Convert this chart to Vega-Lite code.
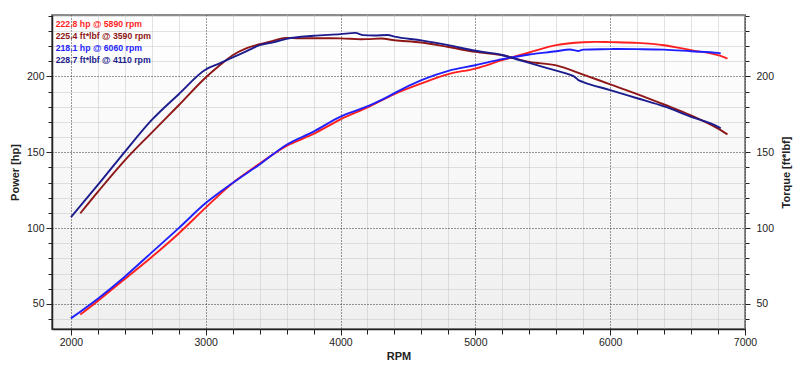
{
  "$schema": "https://vega.github.io/schema/vega-lite/v6.json",
  "width": 693,
  "height": 314,
  "autosize": "none",
  "padding": {"left": 52, "top": 15, "right": 55, "bottom": 43},
  "background": "#ffffff",
  "config": {
    "view": {
      "fill": {"gradient": "linear", "x1": 0, "y1": 0, "x2": 0, "y2": 1, "stops": [{"offset": 0, "color": "#ffffff"}, {"offset": 1, "color": "#efefef"}]},
      "stroke": "#8c8c8c",
      "strokeWidth": 2
    },
    "axis": {
      "labelFont": "Liberation Sans",
      "labelFontSize": 10.5,
      "labelColor": "#222222",
      "titleFont": "Liberation Sans",
      "titleFontSize": 11,
      "titleFontWeight": "bold",
      "titleColor": "#222222",
      "tickColor": "#222222",
      "domainColor": "#222222",
      "labelFlush": false,
      "labelOverlap": false
    }
  },
  "data": {
    "values": [
      {"series": "P1", "rpm": 2070, "value": 43},
      {"series": "P1", "rpm": 2200, "value": 52},
      {"series": "P1", "rpm": 2400, "value": 66.5},
      {"series": "P1", "rpm": 2600, "value": 81},
      {"series": "P1", "rpm": 2800, "value": 96.5},
      {"series": "P1", "rpm": 3000, "value": 113.5},
      {"series": "P1", "rpm": 3200, "value": 129.8},
      {"series": "P1", "rpm": 3400, "value": 142.5},
      {"series": "P1", "rpm": 3600, "value": 154.2},
      {"series": "P1", "rpm": 3800, "value": 162.1},
      {"series": "P1", "rpm": 4000, "value": 171.7},
      {"series": "P1", "rpm": 4200, "value": 179.6},
      {"series": "P1", "rpm": 4400, "value": 188.4},
      {"series": "P1", "rpm": 4600, "value": 195.4},
      {"series": "P1", "rpm": 4800, "value": 201.5},
      {"series": "P1", "rpm": 5000, "value": 205.2},
      {"series": "P1", "rpm": 5200, "value": 210.7},
      {"series": "P1", "rpm": 5400, "value": 215.8},
      {"series": "P1", "rpm": 5600, "value": 220.6},
      {"series": "P1", "rpm": 5800, "value": 222.5},
      {"series": "P1", "rpm": 5890, "value": 222.8},
      {"series": "P1", "rpm": 6000, "value": 222.6},
      {"series": "P1", "rpm": 6200, "value": 222.1},
      {"series": "P1", "rpm": 6400, "value": 220.6},
      {"series": "P1", "rpm": 6600, "value": 217.3},
      {"series": "P1", "rpm": 6800, "value": 214.0},
      {"series": "P1", "rpm": 6870, "value": 211.8},

      {"series": "T1", "rpm": 2070, "value": 109.8},
      {"series": "T1", "rpm": 2200, "value": 123.9},
      {"series": "T1", "rpm": 2400, "value": 144.7},
      {"series": "T1", "rpm": 2600, "value": 163},
      {"series": "T1", "rpm": 2800, "value": 181},
      {"series": "T1", "rpm": 3000, "value": 199.3},
      {"series": "T1", "rpm": 3100, "value": 207},
      {"series": "T1", "rpm": 3200, "value": 214},
      {"series": "T1", "rpm": 3300, "value": 218.5},
      {"series": "T1", "rpm": 3400, "value": 221.2},
      {"series": "T1", "rpm": 3500, "value": 223.5},
      {"series": "T1", "rpm": 3590, "value": 225.4},
      {"series": "T1", "rpm": 3700, "value": 225.1},
      {"series": "T1", "rpm": 3800, "value": 225.2},
      {"series": "T1", "rpm": 4000, "value": 225.1},
      {"series": "T1", "rpm": 4150, "value": 224.5},
      {"series": "T1", "rpm": 4200, "value": 224.6},
      {"series": "T1", "rpm": 4300, "value": 225.0},
      {"series": "T1", "rpm": 4400, "value": 223.9},
      {"series": "T1", "rpm": 4600, "value": 222.4},
      {"series": "T1", "rpm": 4800, "value": 219.4},
      {"series": "T1", "rpm": 5000, "value": 216.2},
      {"series": "T1", "rpm": 5200, "value": 214.0},
      {"series": "T1", "rpm": 5400, "value": 209.6},
      {"series": "T1", "rpm": 5600, "value": 207.3},
      {"series": "T1", "rpm": 5800, "value": 201.2},
      {"series": "T1", "rpm": 6000, "value": 194.8},
      {"series": "T1", "rpm": 6200, "value": 188.4},
      {"series": "T1", "rpm": 6400, "value": 181.5},
      {"series": "T1", "rpm": 6600, "value": 174.3},
      {"series": "T1", "rpm": 6800, "value": 165.6},
      {"series": "T1", "rpm": 6870, "value": 161.8},

      {"series": "P2", "rpm": 2000, "value": 40.5},
      {"series": "P2", "rpm": 2200, "value": 53.5},
      {"series": "P2", "rpm": 2400, "value": 68},
      {"series": "P2", "rpm": 2600, "value": 84},
      {"series": "P2", "rpm": 2800, "value": 100},
      {"series": "P2", "rpm": 3000, "value": 116.5},
      {"series": "P2", "rpm": 3200, "value": 129.8},
      {"series": "P2", "rpm": 3400, "value": 142},
      {"series": "P2", "rpm": 3600, "value": 155},
      {"series": "P2", "rpm": 3800, "value": 163.6},
      {"series": "P2", "rpm": 4000, "value": 173.5},
      {"series": "P2", "rpm": 4150, "value": 178.6},
      {"series": "P2", "rpm": 4250, "value": 182.3},
      {"series": "P2", "rpm": 4370, "value": 187.5},
      {"series": "P2", "rpm": 4400, "value": 189},
      {"series": "P2", "rpm": 4600, "value": 197.6},
      {"series": "P2", "rpm": 4800, "value": 203.7},
      {"series": "P2", "rpm": 5000, "value": 207.4},
      {"series": "P2", "rpm": 5200, "value": 211.4},
      {"series": "P2", "rpm": 5400, "value": 214.5},
      {"series": "P2", "rpm": 5600, "value": 216.6},
      {"series": "P2", "rpm": 5700, "value": 217.8},
      {"series": "P2", "rpm": 5760, "value": 216.8},
      {"series": "P2", "rpm": 5800, "value": 217.7},
      {"series": "P2", "rpm": 6000, "value": 218.0},
      {"series": "P2", "rpm": 6060, "value": 218.1},
      {"series": "P2", "rpm": 6200, "value": 218.0},
      {"series": "P2", "rpm": 6400, "value": 217.7},
      {"series": "P2", "rpm": 6600, "value": 216.6},
      {"series": "P2", "rpm": 6800, "value": 215.5},
      {"series": "P2", "rpm": 6820, "value": 215.1},

      {"series": "T2", "rpm": 2000, "value": 107.2},
      {"series": "T2", "rpm": 2200, "value": 128.5},
      {"series": "T2", "rpm": 2400, "value": 150.3},
      {"series": "T2", "rpm": 2600, "value": 171.3},
      {"series": "T2", "rpm": 2800, "value": 188.3},
      {"series": "T2", "rpm": 3000, "value": 204.6},
      {"series": "T2", "rpm": 3100, "value": 208.5},
      {"series": "T2", "rpm": 3200, "value": 212.5},
      {"series": "T2", "rpm": 3300, "value": 216.5},
      {"series": "T2", "rpm": 3400, "value": 220.6},
      {"series": "T2", "rpm": 3500, "value": 222.5},
      {"series": "T2", "rpm": 3600, "value": 224.8},
      {"series": "T2", "rpm": 3800, "value": 226.8},
      {"series": "T2", "rpm": 4000, "value": 227.9},
      {"series": "T2", "rpm": 4110, "value": 228.7},
      {"series": "T2", "rpm": 4170, "value": 227.2},
      {"series": "T2", "rpm": 4250, "value": 227.0},
      {"series": "T2", "rpm": 4350, "value": 227.3},
      {"series": "T2", "rpm": 4400, "value": 226.2},
      {"series": "T2", "rpm": 4600, "value": 223.8},
      {"series": "T2", "rpm": 4800, "value": 220.6},
      {"series": "T2", "rpm": 5000, "value": 216.9},
      {"series": "T2", "rpm": 5200, "value": 214.1},
      {"series": "T2", "rpm": 5300, "value": 211.5},
      {"series": "T2", "rpm": 5400, "value": 208.9},
      {"series": "T2", "rpm": 5600, "value": 203.8},
      {"series": "T2", "rpm": 5700, "value": 201.2},
      {"series": "T2", "rpm": 5740, "value": 199.5},
      {"series": "T2", "rpm": 5760, "value": 197.8},
      {"series": "T2", "rpm": 5800, "value": 196.3},
      {"series": "T2", "rpm": 6000, "value": 191.0},
      {"series": "T2", "rpm": 6200, "value": 185.6},
      {"series": "T2", "rpm": 6400, "value": 180.2},
      {"series": "T2", "rpm": 6600, "value": 173.4},
      {"series": "T2", "rpm": 6800, "value": 166.8},
      {"series": "T2", "rpm": 6820, "value": 165.8}
    ]
  },
  "layer": [
    {
      "mark": {"type": "line", "strokeWidth": 1.9, "interpolate": "monotone"},
      "encoding": {
        "x": {
          "field": "rpm", "type": "quantitative",
          "scale": {"domain": [1860, 7000], "nice": false, "zero": false},
          "axis": {
            "orient": "bottom", "values": [2000, 3000, 4000, 5000, 6000, 7000], "format": "d",
            "tickSize": 6, "labelPadding": 2, "grid": true, "gridColor": "#333333", "gridDash": [1, 2],
            "domainWidth": 1.5, "title": "RPM", "titlePadding": 3
          }
        },
        "y": {
          "field": "value", "type": "quantitative",
          "scale": {"domain": [33.5, 240.5], "nice": false, "zero": false},
          "axis": {
            "orient": "left", "values": [50, 100, 150, 200], "tickSize": 6, "labelPadding": 2,
            "grid": true, "gridColor": "#333333", "gridDash": [1, 2], "domainWidth": 1.5,
            "title": "Power [hp]", "titlePadding": 6
          }
        },
        "color": {
          "field": "series", "type": "nominal",
          "scale": {"domain": ["P1", "T1", "P2", "T2"], "range": ["#ff1f1f", "#8e1616", "#1f1fff", "#1c1c8e"]},
          "legend": {
            "orient": "top-left", "offset": 5, "title": null, "padding": 0,
            "symbolType": "circle", "symbolSize": 0, "symbolStrokeWidth": 0, "symbolOpacity": 0, "labelOffset": -10,
            "labelFont": "Liberation Sans", "labelFontSize": 8.7, "labelFontWeight": "bold",
            "rowPadding": 2,
            "labelExpr": "{'P1': '222.8 hp @ 5890 rpm', 'T1': '225.4 ft*lbf @ 3590 rpm', 'P2': '218.1 hp @ 6060 rpm', 'T2': '228.7 ft*lbf @ 4110 rpm'}[datum.value]",
            "encode": {"labels": {"update": {"fill": {"scale": "color", "field": "value"}}}}
          }
        }
      }
    },
    {
      "mark": {"type": "line", "strokeOpacity": 0},
      "encoding": {
        "detail": {"field": "series"},
        "x": {
          "field": "rpm", "type": "quantitative",
          "axis": {
            "orient": "bottom", "values": [2200, 2400, 2600, 2800, 3200, 3400, 3600, 3800, 4200, 4400, 4600, 4800, 5200, 5400, 5600, 5800, 6200, 6400, 6600, 6800],
            "labels": false, "domain": false, "tickSize": 5, "grid": true, "gridColor": "#c4c4c4", "gridDash": [1, 1], "title": null
          }
        },
        "y": {
          "field": "value", "type": "quantitative",
          "axis": {
            "orient": "left", "values": [40, 60, 70, 80, 90, 110, 120, 130, 140, 160, 170, 180, 190, 210, 220, 230, 240],
            "labels": false, "domain": false, "tickSize": 4, "grid": true, "gridColor": "#c4c4c4", "gridDash": [1, 1], "title": null
          }
        }
      }
    },
    {
      "mark": {"type": "line", "strokeOpacity": 0},
      "encoding": {
        "detail": {"field": "series"},
        "x": {"field": "rpm", "type": "quantitative", "axis": null},
        "y": {
          "field": "value", "type": "quantitative",
          "axis": {
            "orient": "right", "values": [50, 100, 150, 200], "tickSize": 5, "labelPadding": 6,
            "grid": false, "domain": false, "title": "Torque [ft*lbf]", "titleAngle": 270,
            "titleBaseline": "top", "titlePadding": 7
          }
        }
      }
    },
    {
      "mark": {"type": "line", "strokeOpacity": 0},
      "encoding": {
        "detail": {"field": "series"},
        "x": {"field": "rpm", "type": "quantitative", "axis": null},
        "y": {
          "field": "value", "type": "quantitative",
          "axis": {
            "orient": "right", "values": [40, 60, 70, 80, 90, 110, 120, 130, 140, 160, 170, 180, 190, 210, 220, 230, 240],
            "labels": false, "domain": false, "tickSize": 4, "grid": false, "title": null
          }
        }
      }
    }
  ],
  "resolve": {"scale": {"x": "shared", "y": "shared"}, "axis": {"x": "independent", "y": "independent"}}
}
